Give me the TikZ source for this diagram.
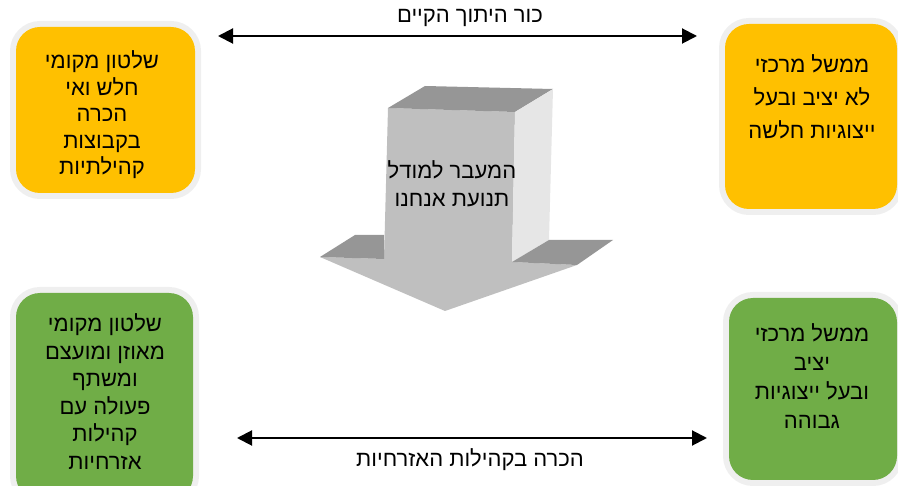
\documentclass[tikz,border=0pt]{standalone}
\usepackage{fontspec}
\newfontfamily\heb[Script=Hebrew]{Liberation Sans}
\TeXXeTstate=1
\usetikzlibrary{arrows.meta}
\newcommand\rl[1]{\beginR #1\endR}
\definecolor{orng}{HTML}{FFC000}
\definecolor{grn}{HTML}{70AD47}
\definecolor{boxedge}{HTML}{EFEFEF}
\definecolor{afront}{HTML}{BFBFBF}
\definecolor{atop}{HTML}{969696}
\definecolor{aside}{HTML}{E6E6E6}
\tikzset{
  box/.style={rounded corners=24pt, inner sep=0pt, preaction={draw=boxedge, line width=12pt}},
  txt/.style={font=\heb\fontsize{22}{26.5}\selectfont, align=center, inner sep=0pt},
  conn/.style={{Triangle[length=15pt,width=15pt]}-{Triangle[length=15pt,width=15pt]}, line width=2pt},
}
\begin{document}
\begin{tikzpicture}[x=1pt,y=-1pt]
\useasboundingbox (0,0) rectangle (898,486);
\clip (0,0) rectangle (898,486);
% boxes
\node[box, fill=orng, minimum width=179pt, minimum height=166pt] (tl) at (105.5,110) {};
\node[box, fill=orng, minimum width=172pt, minimum height=185pt] (tr) at (811,116.5) {};
\node[box, fill=grn, minimum width=177pt, minimum height=207pt] (bl) at (104.5,396.5) {};
\node[box, fill=grn, minimum width=168pt, minimum height=182pt] (br) at (813,389) {};
% box texts
\node[txt] (tlt) at (102,115) {\rl{שלטון מקומי}\\\rl{חלש ואי}\\\rl{הכרה}\\\rl{בקבוצות}\\\rl{קהילתיות}};
\node[txt, font=\heb\fontsize{22}{33}\selectfont] (trt) at (812,96.5) {\rl{ממשל מרכזי}\\\rl{לא יציב ובעל}\\\rl{ייצוגיות חלשה}};
\node[txt, font=\heb\fontsize{22}{27.5}\selectfont] (blt) at (105,391.5) {\rl{שלטון מקומי}\\\rl{מאוזן ומועצם}\\\rl{ומשתף}\\\rl{פעולה עם}\\\rl{קהילות}\\\rl{אזרחיות}};
\node[txt, font=\heb\fontsize{22}{29}\selectfont] (brt) at (812,376) {\rl{ממשל מרכזי}\\\rl{יציב}\\\rl{ובעל ייצוגיות}\\\rl{גבוהה}};
% 3D arrow
\fill[afront] (388,108) -- (515,112) -- (512,262) -- (577,265) -- (445,311) -- (320,257) -- (384,259) -- cycle;
\fill[atop] (388,108) -- (425,86) -- (553,89) -- (515,112) -- cycle;
\fill[aside] (515,112) -- (553,89) -- (549,240) -- (512,262) -- cycle;
\fill[atop] (512,262) -- (549,240) -- (613,240) -- (577,265) -- cycle;
\fill[atop] (320,257) -- (355,235) -- (384,235) -- (384,259) -- cycle;
\node[txt, font=\heb\fontsize{22}{28}\selectfont] (mid) at (452,184) {\rl{המעבר למודל}\\\rl{תנועת אנחנו}};
% connectors
\coordinate (a1) at (218,36);
\coordinate (a2) at (697,36);
\coordinate (b1) at (237,438);
\coordinate (b2) at (707,438);
\draw[conn] (a1) -- (a2);
\draw[conn] (b1) -- (b2);
\node[txt] (toplab) at (470,18) {\rl{כור היתוך הקיים}};
\node[txt] (botlab) at (470,460) {\rl{הכרה בקהילות האזרחיות}};
\end{tikzpicture}
\end{document}
